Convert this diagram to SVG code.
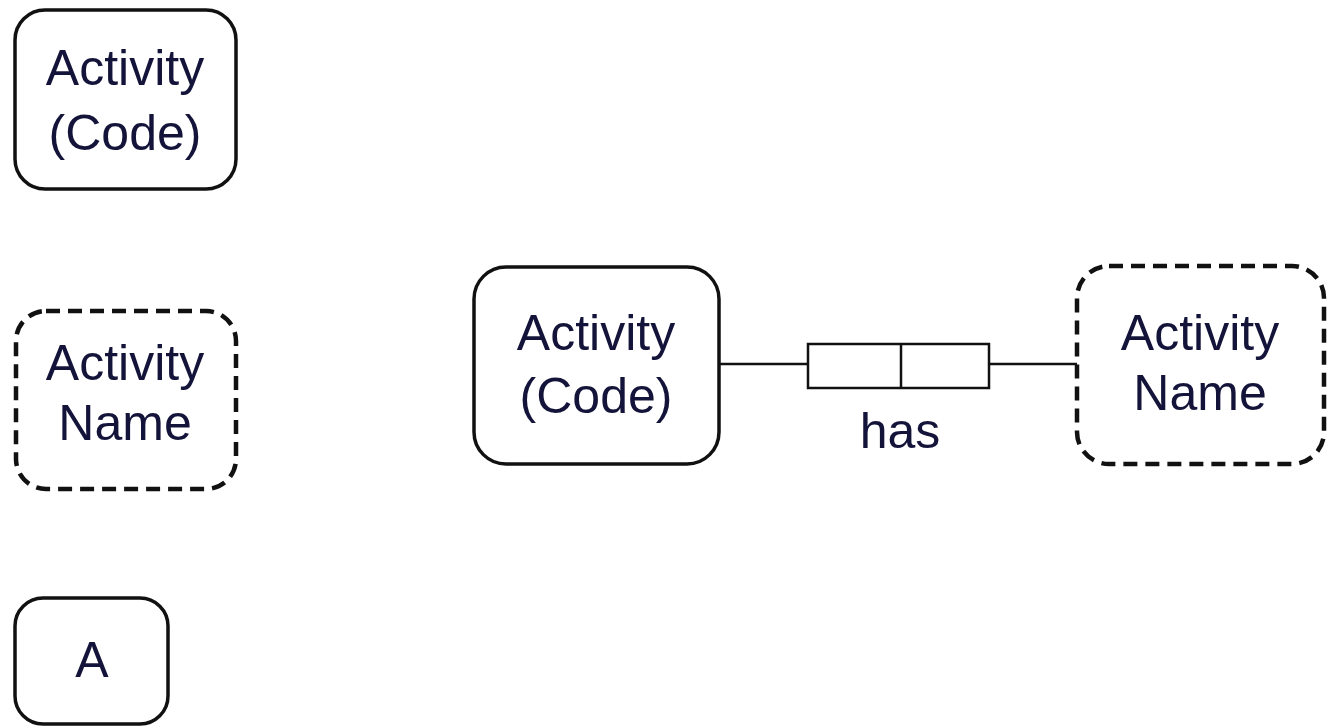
<svg xmlns="http://www.w3.org/2000/svg" width="1328" height="727" viewBox="0 0 1328 727">
<style>
.box{fill:#fff;stroke:#111;stroke-width:3.5}
.dash{fill:#fff;stroke:#111;stroke-width:4.5;stroke-dasharray:14 8}
.t{font-family:"Liberation Sans",Arial,sans-serif;font-size:50px;fill:#14143a;text-anchor:middle}
.c{fill:none;stroke:#111;stroke-width:2.5}
</style>
<rect width="1328" height="727" fill="#fff"/>
<g id="n1"><rect class="box" x="15" y="10" width="221" height="179" rx="30"/>
<text class="t" x="125" y="85">Activity</text><text class="t" x="125" y="150">(Code)</text></g>
<g id="n2"><rect class="dash" x="16" y="311" width="220" height="178" rx="30"/>
<text class="t" x="125" y="380">Activity</text><text class="t" x="125" y="440">Name</text></g>
<g id="n3"><rect class="box" x="15" y="598" width="153" height="126" rx="28"/>
<text class="t" x="92" y="677">A</text></g>
<g id="n4"><rect class="box" x="474" y="267" width="245" height="197" rx="32"/>
<text class="t" x="596" y="350">Activity</text><text class="t" x="596" y="413">(Code)</text></g>
<g id="n5"><rect class="dash" x="1077" y="266" width="247" height="198" rx="32"/>
<text class="t" x="1200" y="350">Activity</text><text class="t" x="1200" y="410">Name</text></g>
<g id="connectors">
<line class="c" x1="719" y1="364" x2="808" y2="364"/>
<rect class="c" x="808" y="344" width="181" height="44"/>
<line class="c" x1="901" y1="344" x2="901" y2="388"/>
<line class="c" x1="989" y1="364" x2="1077" y2="364"/>
<text class="t" x="900" y="448">has</text>
</g>
</svg>
